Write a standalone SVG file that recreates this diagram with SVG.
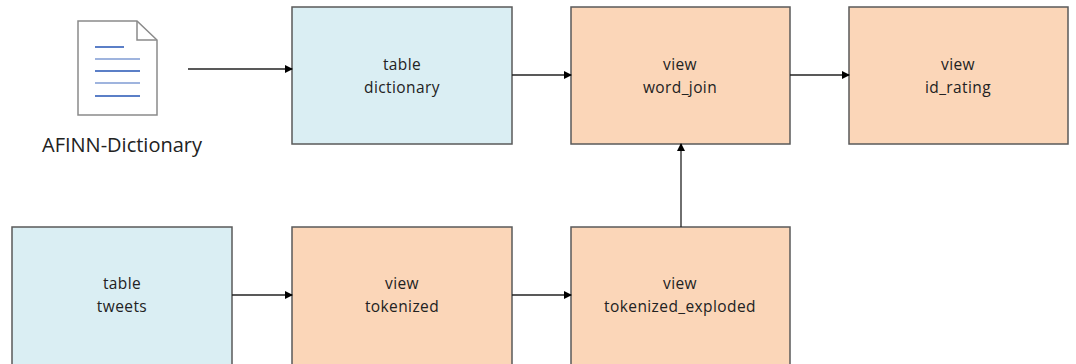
<svg xmlns="http://www.w3.org/2000/svg" width="1076" height="364" viewBox="0 0 1076 364">
<defs>
<marker id="arr" markerWidth="8" markerHeight="8" refX="7" refY="4" orient="auto" markerUnits="userSpaceOnUse">
<path d="M0,0 L8,4 L0,8 Z" fill="#000"/>
</marker>
<style>
.tbl{fill:#DAEEF3;stroke:#5a5a5a;stroke-width:1.5}
.view{fill:#FBD6B8;stroke:#5a5a5a;stroke-width:1.5}
.lbl{font-family:"Open Sans","Noto Sans","Liberation Sans",sans-serif;font-size:15.5px;letter-spacing:0.4px;fill:#222;text-anchor:middle}
.conn{stroke:#222;stroke-width:1.3;fill:none;marker-end:url(#arr)}
.ln{stroke:#5b7fc7;stroke-width:2}
.ln2{stroke:#7f9bd3;stroke-width:1.5}
</style>
</defs>
<rect width="1076" height="364" fill="#fff"/>
<g id="afinn">
<path d="M78,21 L137,21 L157,40 L157,115 L78,115 Z" fill="#fff" stroke="#8a8a8a" stroke-width="1.5"/>
<path d="M137,21 L137,40 L157,40" fill="none" stroke="#8a8a8a" stroke-width="1.5"/>
<line class="ln" x1="95" y1="47" x2="124" y2="47"/>
<line class="ln2" x1="95" y1="59" x2="140" y2="59"/>
<line class="ln" x1="95" y1="71" x2="140" y2="71"/>
<line class="ln2" x1="95" y1="83" x2="140" y2="83"/>
<line class="ln" x1="95" y1="96" x2="140" y2="96"/>
<text x="122" y="152" font-family="'Open Sans','Noto Sans','Liberation Sans',sans-serif" font-size="20" fill="#222" text-anchor="middle">AFINN-Dictionary</text>
</g>
<g id="dictionary">
<rect class="tbl" x="292" y="7" width="220" height="137"/>
<text class="lbl" x="402" y="70">table</text>
<text class="lbl" x="402" y="93">dictionary</text>
</g>
<g id="word_join">
<rect class="view" x="571" y="7" width="219" height="137"/>
<text class="lbl" x="680" y="70">view</text>
<text class="lbl" x="680" y="93">word_join</text>
</g>
<g id="id_rating">
<rect class="view" x="849" y="7" width="219" height="137"/>
<text class="lbl" x="958" y="70">view</text>
<text class="lbl" x="958" y="93">id_rating</text>
</g>
<g id="tweets">
<rect class="tbl" x="12" y="227" width="220" height="140"/>
<text class="lbl" x="122" y="289">table</text>
<text class="lbl" x="122" y="312">tweets</text>
</g>
<g id="tokenized">
<rect class="view" x="292" y="227" width="220" height="140"/>
<text class="lbl" x="402" y="289">view</text>
<text class="lbl" x="402" y="312">tokenized</text>
</g>
<g id="tokenized_exploded">
<rect class="view" x="571" y="227" width="219" height="140"/>
<text class="lbl" x="680" y="289">view</text>
<text class="lbl" x="680" y="312">tokenized_exploded</text>
</g>
<g id="connectors">
<line class="conn" x1="188" y1="69" x2="292" y2="69"/>
<line class="conn" x1="512" y1="75" x2="571" y2="75"/>
<line class="conn" x1="790" y1="75" x2="849" y2="75"/>
<line class="conn" x1="232" y1="295" x2="292" y2="295"/>
<line class="conn" x1="512" y1="295" x2="571" y2="295"/>
<line class="conn" x1="681" y1="227" x2="681" y2="144"/>
</g>
</svg>
